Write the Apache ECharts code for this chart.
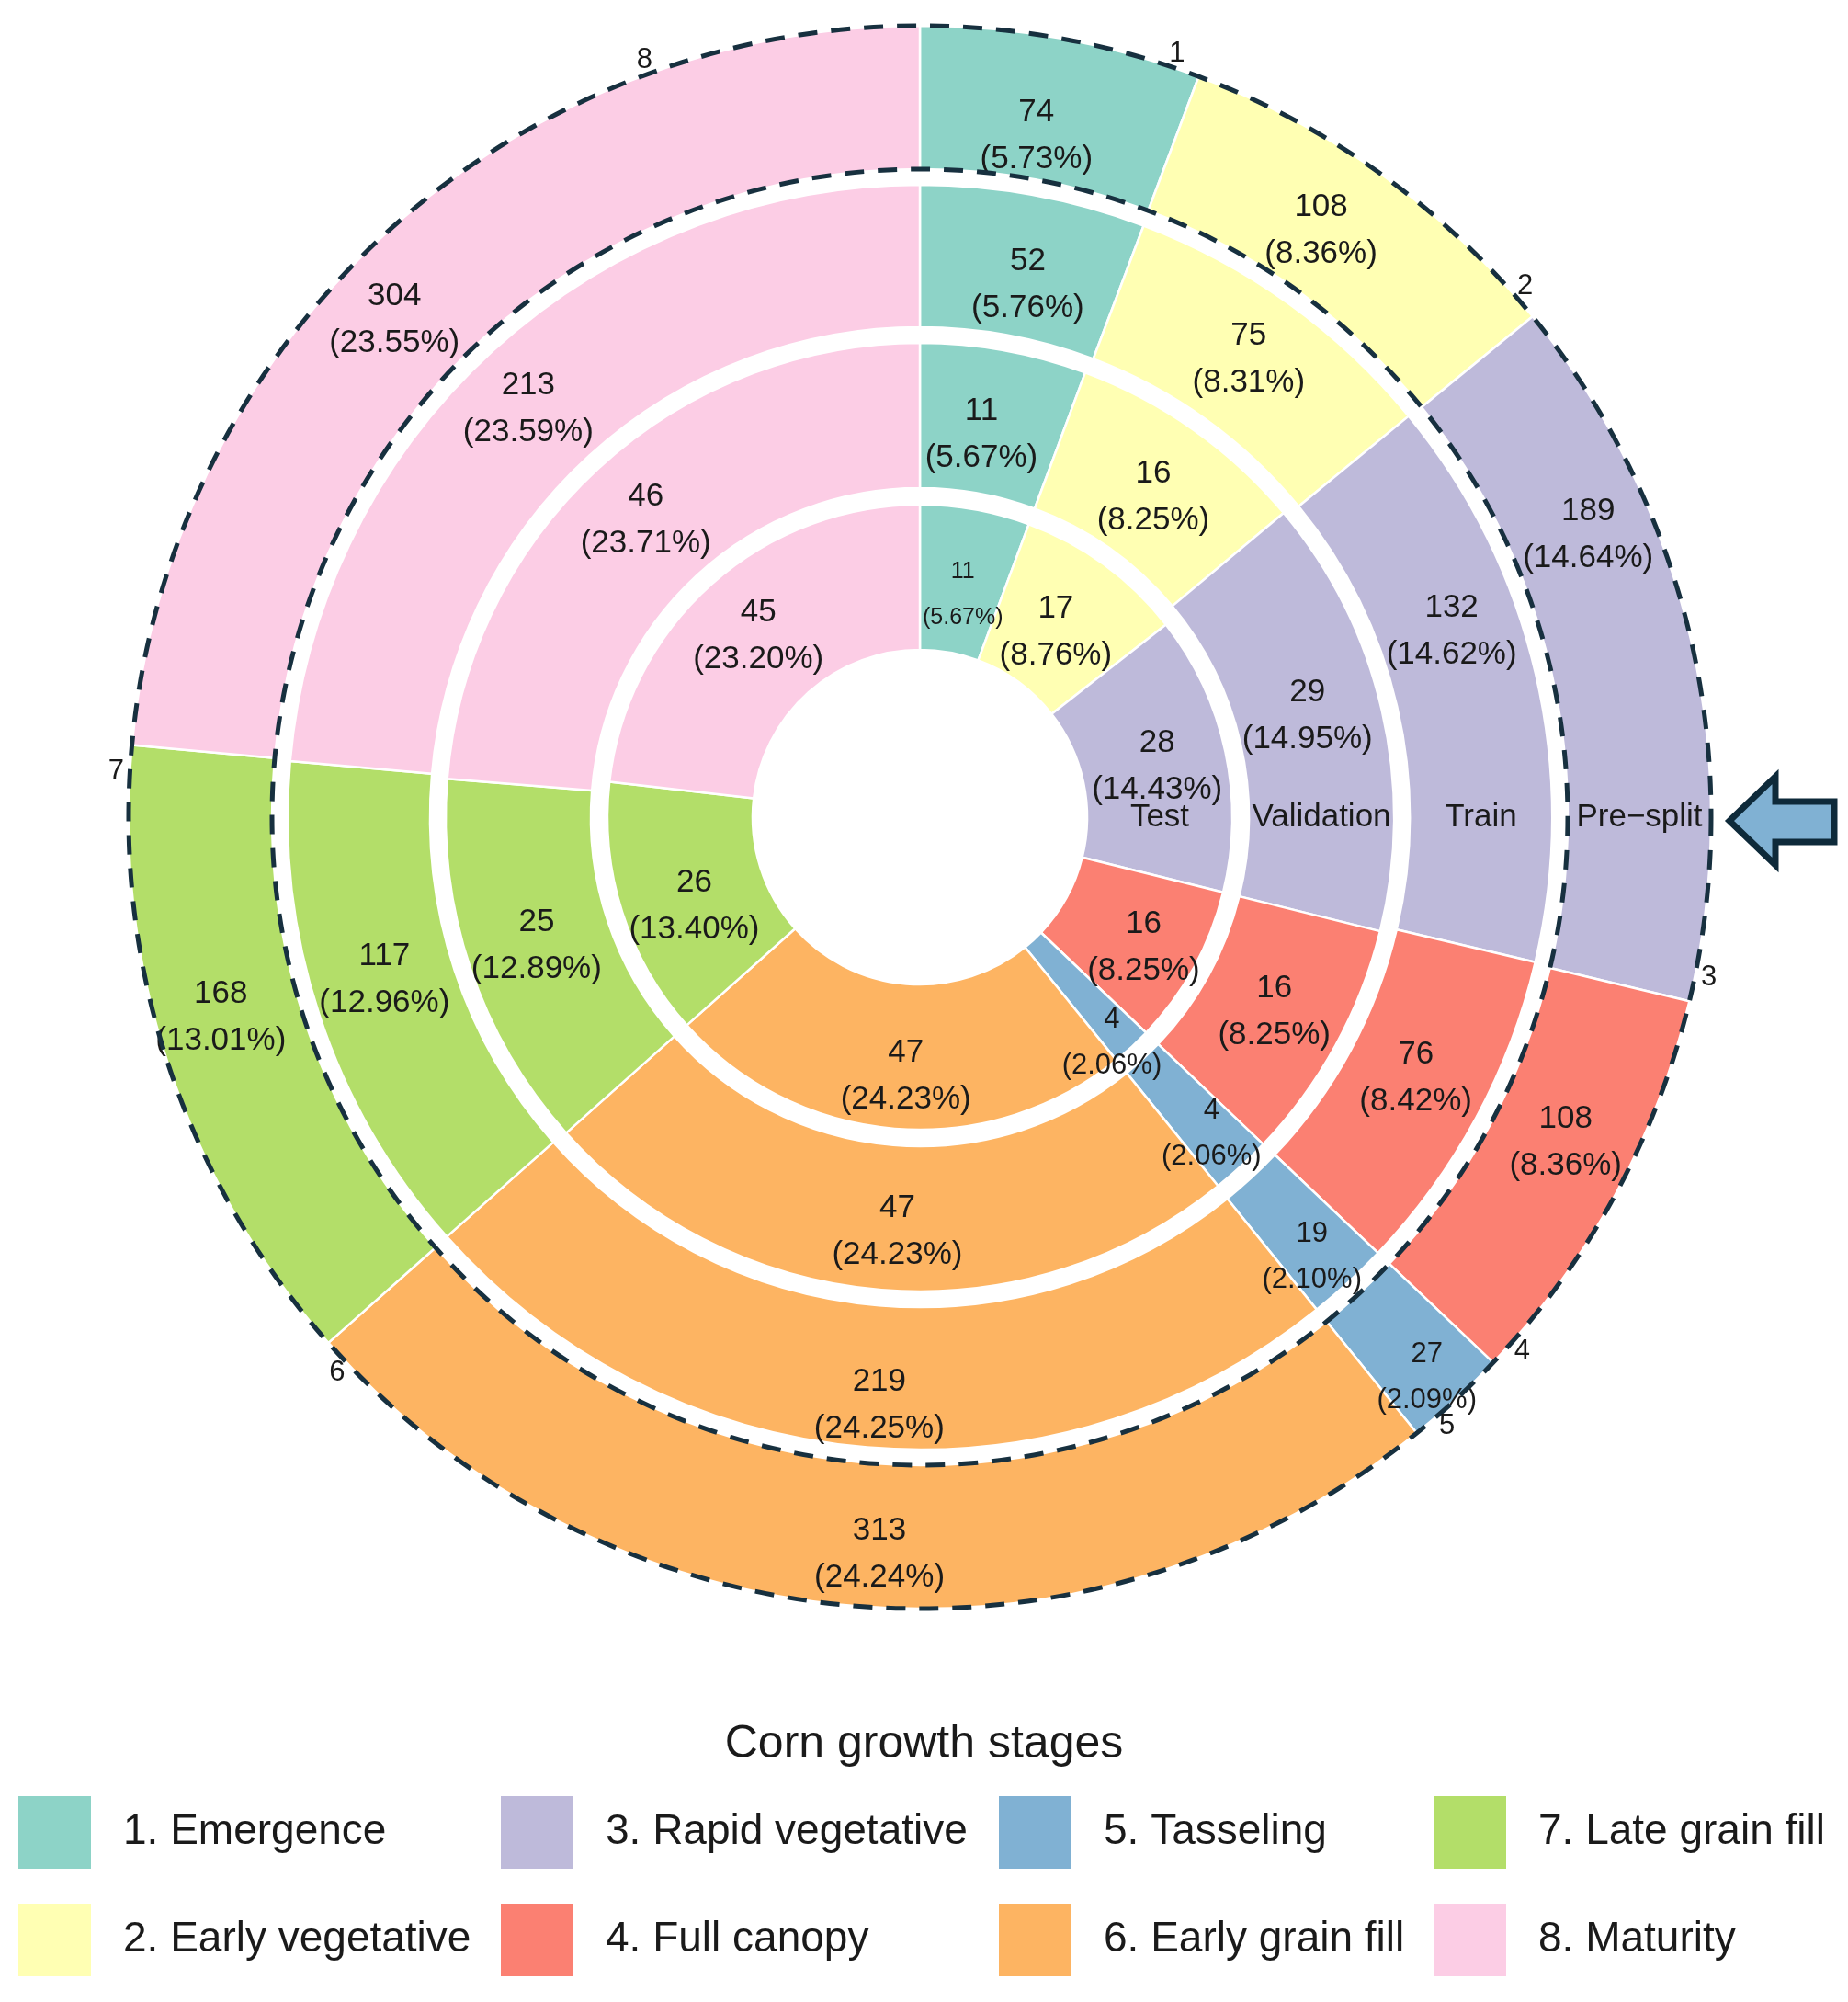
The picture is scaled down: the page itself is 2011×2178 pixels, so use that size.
<!DOCTYPE html>
<html>
<head>
<meta charset="utf-8">
<title>Corn growth stages by split</title>
<script src="https://cdn.jsdelivr.net/npm/echarts@6/dist/echarts.min.js"></script>
<style>
  html, body { margin: 0; padding: 0; background: #fff; }
  #chart { width: 2011px; height: 2178px; }
</style>
</head>
<body>
<div id="chart"></div>
<script>
// categories (clockwise from 12 o'clock)
const stages = ['1. Emergence', '2. Early vegetative', '3. Rapid vegetative', '4. Full canopy',
  '5. Tasseling', '6. Early grain fill', '7. Late grain fill', '8. Maturity']
const ringNames = ['Test', 'Validation', 'Train', 'Pre\u2212split']

// counts and printed percentages per ring
const testCounts = [11, 17, 28, 16, 4, 47, 26, 45]
const testPct = ['5.67', '8.76', '14.43', '8.25', '2.06', '24.23', '13.40', '23.20']
const validationCounts = [11, 16, 29, 16, 4, 47, 25, 46]
const validationPct = ['5.67', '8.25', '14.95', '8.25', '2.06', '24.23', '12.89', '23.71']
const trainCounts = [52, 75, 132, 76, 19, 219, 117, 213]
const trainPct = ['5.76', '8.31', '14.62', '8.42', '2.10', '24.25', '12.96', '23.59']
const preSplitCounts = [74, 108, 189, 108, 27, 313, 168, 304]
const preSplitPct = ['5.73', '8.36', '14.64', '8.36', '2.09', '24.24', '13.01', '23.55']

// Set3 palette
const stageColors = ['#8DD3C7', '#FFFFB3', '#BEBADA', '#FB8072', '#80B1D3', '#FDB462', '#B3DE69', '#FCCDE5']

const FONT = "'Liberation Sans', Arial, Helvetica, sans-serif"
const TEXT = '#1a1a1a'
const DASH = '#17303f'
const CX = 1001
const CY = 889
const RADII = [[182, 340], [358, 516], [533, 688], [705, 861]]

// hand nudges (px) so the labels sit where the original put them
const NUDGE = [
  [[0, 18], [-8, 12], [0, 0], [12, 15], [30, 51], [6, 19], [6, 17], [0, 0]],
  [[-11, 17], [0, 11], [-7, -11], [0, 0], [19, 21], [11, 12], [0, 0], [0, 0]],
  [[7, 24], [0, 0], [-19, -64], [0, -8], [11, 27], [7, 28], [0, -15], [-12, 8]],
  [[-14, 32], [-22, 0], [-39, -132], [12, -21], [19, 31], [21, 19], [-14, -28], [-42, 39]]
]

const sum = arr => arr.reduce((a, b) => a + b, 0)

// one donut ring; fontOverride lets a single slice use smaller text like the original
function ringSeries (idx, counts, pct, fontOverride) {
  const total = sum(counts)
  return {
    type: 'pie',
    name: ringNames[idx],
    center: [CX, CY],
    radius: RADII[idx],
    startAngle: 90,
    clockwise: true,
    silent: true,
    animation: false,
    avoidLabelOverlap: false,
    minShowLabelAngle: 0,
    labelLayout: { hideOverlap: false },
    itemStyle: { borderColor: '#fff', borderWidth: 2.5 },
    label: {
      show: true,
      position: 'inside',
      rotate: 0,
      fontSize: 35,
      lineHeight: 51,
      color: TEXT,
      fontFamily: FONT,
      formatter: p => p.value + '\n(' + pct[p.dataIndex] + '%)'
    },
    labelLine: { show: false },
    data: counts.map((v, i) => {
      let size = 35
      if (v / total < 0.03) size = 31 // thin tasseling sliver
      if (fontOverride && fontOverride[i]) size = fontOverride[i]
      return {
        name: stages[i],
        value: v,
        label: { fontSize: size, lineHeight: size < 35 ? 50 : 51, offset: NUDGE[idx][i] }
      }
    })
  }
}

const graphics = []

// dashed circles around the pre-split ring
;[RADII[3][1], RADII[3][0]].forEach(r => {
  graphics.push({
    type: 'circle',
    silent: true,
    z: 100,
    shape: { cx: CX, cy: CY, r: r },
    style: { fill: null, stroke: DASH, lineWidth: 5, lineDash: [21, 15] }
  })
})

// ring names along the 3 o'clock line
ringNames.forEach((n, i) => {
  graphics.push({
    type: 'text',
    silent: true,
    z: 101,
    x: CX + (RADII[i][0] + RADII[i][1]) / 2,
    y: CY,
    style: { text: n, fontSize: 35, fontFamily: FONT, fill: TEXT, align: 'center', verticalAlign: 'middle' }
  })
})

// stage numbers at the end of each pre-split slice
const preTotal = sum(preSplitCounts)
let cum = 0
preSplitCounts.forEach((v, i) => {
  cum += v
  let deg = cum / preTotal * 360 - 2
  if (i === stages.length - 1) deg = 340 // "8" sits off the top in the original
  const a = deg * Math.PI / 180
  graphics.push({
    type: 'text',
    silent: true,
    z: 101,
    x: CX + 876 * Math.sin(a),
    y: CY - 876 * Math.cos(a),
    style: { text: String(i + 1), fontSize: 31, fontFamily: FONT, fill: TEXT, align: 'center', verticalAlign: 'middle' }
  })
})

// arrow pointing at the pre-split ring
graphics.push({
  type: 'polygon',
  silent: true,
  z: 101,
  shape: {
    points: [[1882, 893], [1932, 845], [1932, 872], [1996, 872], [1996, 916], [1932, 916], [1932, 941]]
  },
  style: { fill: '#80B1D3', stroke: '#0e2a3a', lineWidth: 7, lineJoin: 'miter' }
})

const legendLeft = [20, 545, 1087, 1560]

const chart = echarts.init(document.getElementById('chart'), null, { renderer: 'canvas' })
chart.setOption({
  backgroundColor: '#fff',
  animation: false,
  color: stageColors,
  title: {
    text: 'Corn growth stages',
    left: 'center',
    top: 1868,
    textStyle: { fontSize: 50, fontWeight: 'normal', color: TEXT, fontFamily: FONT }
  },
  legend: legendLeft.map((x, c) => ({
    orient: 'vertical',
    left: x,
    top: 1954,
    padding: 0,
    icon: 'rect',
    itemWidth: 79,
    itemHeight: 79,
    itemGap: 38,
    selectedMode: false,
    itemStyle: { borderWidth: 0 },
    data: [stages[2 * c], stages[2 * c + 1]],
    textStyle: { fontSize: 46, color: TEXT, fontFamily: FONT, padding: [0, 0, 0, 30] }
  })),
  series: [
    ringSeries(0, testCounts, testPct, { 0: 25 }),
    ringSeries(1, validationCounts, validationPct),
    ringSeries(2, trainCounts, trainPct),
    ringSeries(3, preSplitCounts, preSplitPct)
  ],
  graphic: graphics
})
window.addEventListener('resize', () => { chart.resize() })
</script>
</body>
</html>
